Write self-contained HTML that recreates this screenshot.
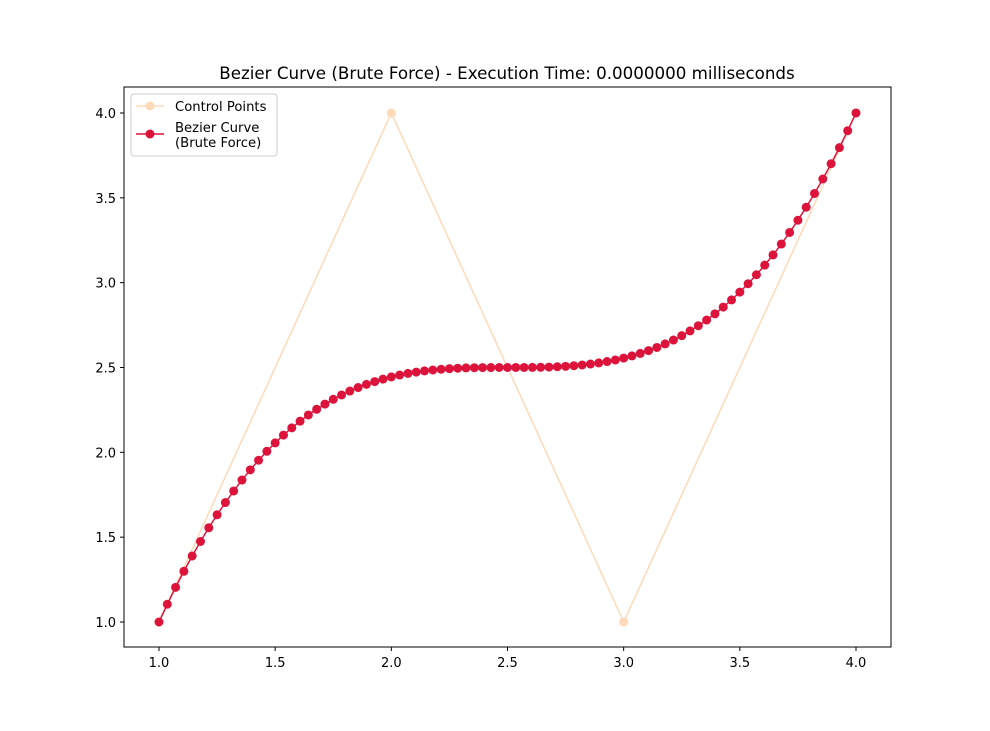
<!DOCTYPE html>
<html><head><meta charset="utf-8"><style>
body{margin:0;background:#fff;font-family:"DejaVu Sans","Liberation Sans",sans-serif}
</style></head><body>
<svg id="chart" width="990" height="727" xmlns="http://www.w3.org/2000/svg" font-family="DejaVu Sans, Liberation Sans, sans-serif">
<rect width="990" height="727" fill="#fff"/>
<text x="507" y="79" font-size="16.7" text-anchor="middle">Bezier Curve (Brute Force) - Execution Time: 0.0000000 milliseconds</text>
<g id="ticks"></g>
<g id="series"></g>
<rect x="124" y="87" width="767" height="560" fill="none" stroke="#000" stroke-width="1"/>
<g>
<rect x="131" y="94" width="146" height="62" rx="3" fill="#fff" fill-opacity="0.8" stroke="#ccc"/>
<line x1="136" y1="106" x2="164" y2="106" stroke="#ffdab9" stroke-width="1.5"/>
<circle cx="150" cy="106" r="4.5" fill="#ffdab9"/>
<text x="175" y="111" font-size="13.2">Control Points</text>
<line x1="136" y1="134" x2="164" y2="134" stroke="#dc143c" stroke-width="1.5"/>
<circle cx="150" cy="134" r="4.5" fill="#dc143c"/>
<text x="175" y="132" font-size="13.2">Bezier Curve</text>
<text x="175" y="147" font-size="13.2">(Brute Force)</text>
</g>
</svg>
<script>
const controlX=[1,2,3,4];
const controlY=[1,4,1,4];
const numPoints=85;
const xTicks=["1.0","1.5","2.0","2.5","3.0","3.5","4.0"];
const yTicks=["1.0","1.5","2.0","2.5","3.0","3.5","4.0"];
const NS="http://www.w3.org/2000/svg";
function sx(v){return 159+(v-1)*232.33;}
function sy(v){return 622-(v-1)*169.67;}
function mk(tag,attrs,parent){const e=document.createElementNS(NS,tag);for(const k in attrs)e.setAttribute(k,attrs[k]);parent.appendChild(e);return e;}
const tg=document.getElementById('ticks');
xTicks.forEach(t=>{const v=parseFloat(t);
const l=mk('line',{x1:sx(v),x2:sx(v),y1:647,y2:651,stroke:'#000'},tg);


const tx=mk('text',{x:sx(v),y:667,'font-size':13,'text-anchor':'middle'},tg);tx.textContent=t;

});
yTicks.forEach(t=>{const v=parseFloat(t);
const l=mk('line',{x1:120,x2:124,y1:sy(v),y2:sy(v),stroke:'#000'},tg);


const tx=mk('text',{x:116,y:sy(v)+5,'font-size':13,'text-anchor':'end'},tg);tx.textContent=t;

});
const sg=document.getElementById('series');
const cp=mk('polyline',{points:controlX.map((x,i)=>sx(x)+','+sy(controlY[i])).join(' '),fill:'none',stroke:'#ffdab9','stroke-width':1.5},sg);


controlX.forEach((x,i)=>{const c=mk('circle',{cx:sx(x),cy:sy(controlY[i]),r:4.5,fill:'#ffdab9'},sg);

});
function bez(p,t){const u=1-t;return u*u*u*p[0]+3*u*u*t*p[1]+3*u*t*t*p[2]+t*t*t*p[3];}
const pts=[];for(let i=0;i<numPoints;i++){const t=i/(numPoints-1);pts.push([bez(controlX,t),bez(controlY,t)]);}
const cl=mk('polyline',{points:pts.map(p=>sx(p[0])+','+sy(p[1])).join(' '),fill:'none',stroke:'#dc143c','stroke-width':1.5},sg);


pts.forEach(p=>{const c=mk('circle',{cx:sx(p[0]),cy:sy(p[1]),r:4.5,fill:'#dc143c'},sg);

});
</script>
</body></html>
